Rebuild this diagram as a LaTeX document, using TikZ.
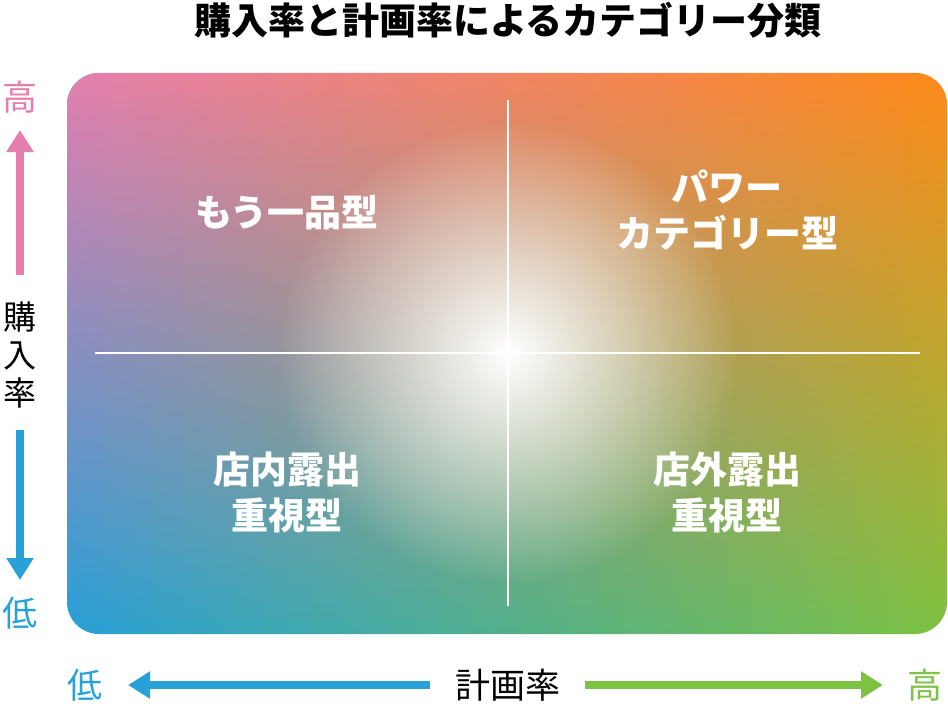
\documentclass[tikz,border=0pt]{standalone}
\usepackage{fontspec}
\setmainfont{Noto Sans CJK JP}
\usetikzlibrary{arrows.meta,fadings}
\tikzfading[name=cfade, inner color=transparent!0, outer color=transparent!100]
\definecolor{pk}{HTML}{E47FAE}
\definecolor{orc}{HTML}{FF8A1A}
\definecolor{bl}{HTML}{28A0D8}
\definecolor{gr}{HTML}{7DC242}
\tikzset{
  quad/.style={text=white,font=\fontsize{37}{46}\selectfont\bfseries,align=center},
  axl/.style={font=\fontsize{35}{40}\selectfont},
  arr/.style={line width=8pt,-{Triangle[length=22pt,width=26pt]}},
}
\begin{document}
\begin{tikzpicture}[x=1pt,y=-1pt]
\useasboundingbox (0,0) rectangle (948,704);
\shade[left color=bl,right color=gr,rounded corners=32pt] (67,73) rectangle (947,634);
\shade[left color=pk,right color=orc,rounded corners=32pt,path fading=south] (67,73) rectangle (947,634);
\fill[white,path fading=cfade] (508,353) circle (230);
\coordinate (c) at (508,353);
\draw[white,line width=1.2pt] (508,100) -- (508,606);
\draw[white,line width=1.2pt] (95,353) -- (920,353);
\node[font=\fontsize{37}{42}\selectfont\bfseries] (t) at (508,20) {購入率と計画率によるカテゴリー分類};
\node[quad] (q1) at (287,213) {もう一品型};
\node[quad] (q2) at (727,210) {パワー\\カテゴリー型};
\node[quad] (q3) at (287,492) {店内露出\\重視型};
\node[quad] (q4) at (727,492) {店外露出\\重視型};
\node[axl,text=pk] (vh) at (20,97) {高};
\node[axl,text=bl] (vl) at (20,613) {低};
\node[axl,align=center,font=\fontsize{33}{38}\selectfont] (vy) at (20,355) {購\\入\\率};
\coordinate (vu) at (20,275); \coordinate (vut) at (20,130);
\coordinate (vd) at (20,430); \coordinate (vdt) at (20,580);
\draw[arr,color=pk] (vu) -- (vut);
\draw[arr,color=bl] (vd) -- (vdt);
\node[axl,text=bl] (hl) at (85,685) {低};
\node[axl,text=gr] (hh) at (925,685) {高};
\node[axl] (hx) at (508,685) {計画率};
\coordinate (hla) at (430,685); \coordinate (hlt) at (128,685);
\coordinate (hra) at (585,685); \coordinate (hrt) at (883,685);
\draw[arr,color=bl] (hla) -- (hlt);
\draw[arr,color=gr] (hra) -- (hrt);
\end{tikzpicture}
\end{document}
